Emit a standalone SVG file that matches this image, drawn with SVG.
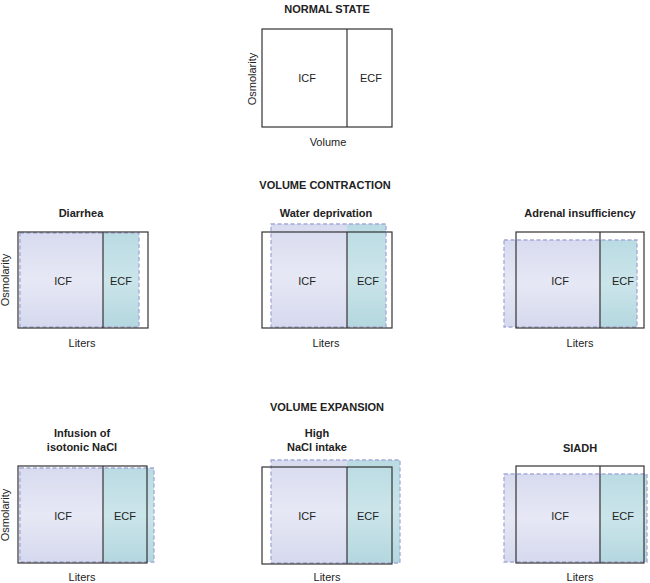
<svg xmlns="http://www.w3.org/2000/svg" width="650" height="583" viewBox="0 0 650 583">
<style>
text{font-family:"Liberation Sans",Arial,sans-serif;font-size:11px;fill:#222;text-anchor:middle}
.t{font-weight:bold}
.box{fill:none;stroke:#333;stroke-width:1.2}
.div{stroke:#333;stroke-width:1.2}
.dash{fill:none;stroke:#a4aad8;stroke-width:1.3;stroke-dasharray:4 2.5}
.icf{fill:url(#gI)}
.ecf{fill:url(#gE)}
</style>
<defs>
<linearGradient id="gI" x1="0" y1="0" x2="0" y2="1">
<stop offset="0" stop-color="#d8dbef"/><stop offset="0.5" stop-color="#e6e8f5"/><stop offset="1" stop-color="#d6d9ee"/>
</linearGradient>
<linearGradient id="gE" x1="0" y1="0" x2="0" y2="1">
<stop offset="0" stop-color="#badbe3"/><stop offset="0.5" stop-color="#cbe5ea"/><stop offset="1" stop-color="#b4d7df"/>
</linearGradient>
</defs>
<text class="t" x="327" y="13">NORMAL STATE</text>
<text class="t" x="325" y="189">VOLUME CONTRACTION</text>
<text class="t" x="327" y="411">VOLUME EXPANSION</text>

<g id="normal">
<rect class="box" x="262" y="29" width="130" height="98"/>
<line class="div" x1="347" y1="29" x2="347" y2="127"/>
<text x="307" y="82">ICF</text>
<text x="371" y="82">ECF</text>
<text x="328" y="146">Volume</text>
<text transform="translate(256,79) rotate(-90)">Osmolarity</text>
</g>

<g id="diarrhea">
<rect class="icf" x="19" y="233" width="84" height="94"/>
<rect class="ecf" x="103" y="233" width="36" height="94"/>
<rect class="dash" x="20" y="233" width="119" height="94"/>
<rect class="box" x="18" y="232" width="130" height="96"/>
<line class="div" x1="103" y1="232" x2="103" y2="328"/>
<text class="t" x="81" y="217">Diarrhea</text>
<text x="63" y="285">ICF</text>
<text x="121" y="285">ECF</text>
<text x="82" y="347">Liters</text>
<text transform="translate(9,280) rotate(-90)">Osmolarity</text>
</g>

<g id="water">
<rect class="icf" x="271" y="224" width="76" height="103"/>
<rect class="ecf" x="347" y="224" width="39" height="103"/>
<rect class="dash" x="271" y="224" width="115" height="103"/>
<rect class="box" x="262" y="232" width="130" height="96"/>
<line class="div" x1="347" y1="232" x2="347" y2="328"/>
<text class="t" x="326" y="217">Water deprivation</text>
<text x="307" y="285">ICF</text>
<text x="368" y="285">ECF</text>
<text x="326" y="347">Liters</text>
</g>

<g id="adrenal">
<rect class="icf" x="504" y="240" width="96" height="87"/>
<rect class="ecf" x="600" y="240" width="37" height="87"/>
<rect class="dash" x="504" y="240" width="133" height="87"/>
<rect class="box" x="516" y="232" width="128" height="96"/>
<line class="div" x1="600" y1="232" x2="600" y2="328"/>
<text class="t" x="580" y="217">Adrenal insufficiency</text>
<text x="560" y="285">ICF</text>
<text x="623" y="285">ECF</text>
<text x="580" y="347">Liters</text>
</g>

<g id="infusion">
<rect class="icf" x="19" y="468" width="84" height="94"/>
<rect class="ecf" x="103" y="468" width="51" height="94"/>
<rect class="dash" x="20" y="468" width="134" height="94"/>
<rect class="box" x="18" y="466" width="129" height="97"/>
<line class="div" x1="103" y1="466" x2="103" y2="563"/>
<text class="t" x="82" y="437">Infusion of</text>
<text class="t" x="82" y="451">isotonic NaCl</text>
<text x="63" y="520">ICF</text>
<text x="125" y="520">ECF</text>
<text x="82" y="581">Liters</text>
<text transform="translate(9,515) rotate(-90)">Osmolarity</text>
</g>

<g id="highnacl">
<rect class="icf" x="271" y="460" width="76" height="103"/>
<rect class="ecf" x="347" y="460" width="53" height="103"/>
<rect class="dash" x="271" y="460" width="129" height="103"/>
<rect class="box" x="262" y="467" width="130" height="97"/>
<line class="div" x1="347" y1="467" x2="347" y2="564"/>
<text class="t" x="317" y="437">High</text>
<text class="t" x="317" y="451">NaCl intake</text>
<text x="307" y="520">ICF</text>
<text x="368" y="520">ECF</text>
<text x="327" y="581">Liters</text>
</g>

<g id="siadh">
<rect class="icf" x="504" y="474" width="96" height="88"/>
<rect class="ecf" x="600" y="474" width="47" height="88"/>
<rect class="dash" x="504" y="474" width="143" height="88"/>
<rect class="box" x="516" y="466" width="128" height="97"/>
<line class="div" x1="600" y1="466" x2="600" y2="563"/>
<text class="t" x="580" y="452">SIADH</text>
<text x="560" y="520">ICF</text>
<text x="623" y="520">ECF</text>
<text x="580" y="581">Liters</text>
</g>
</svg>
